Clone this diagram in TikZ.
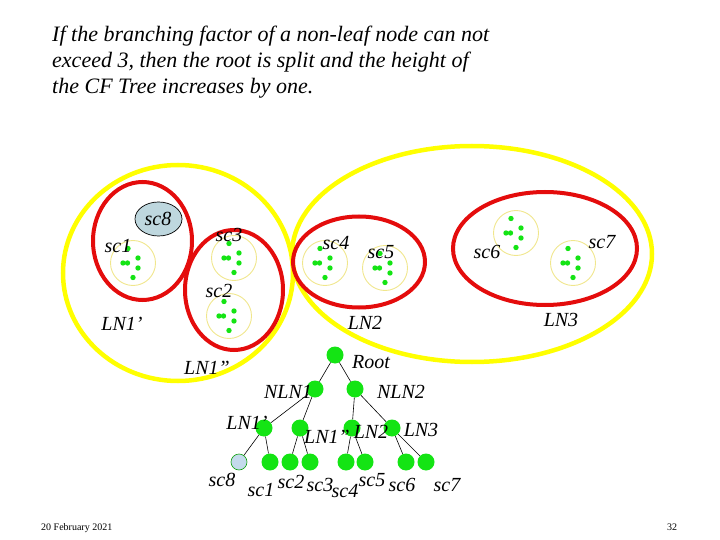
\documentclass[tikz,border=0pt]{standalone}
\usepackage{fontspec}
\setmainfont{Liberation Serif}
\usetikzlibrary{shapes.geometric}
\definecolor{yel}{RGB}{255,255,0}
\definecolor{redc}{RGB}{228,12,12}
\definecolor{paleyel}{RGB}{240,230,140}
\definecolor{grn}{RGB}{20,228,20}
\definecolor{sceight}{RGB}{190,215,222}
\definecolor{leafblue}{RGB}{196,218,236}
\begin{document}
\begin{tikzpicture}[x=1pt,y=-1pt,
  yell/.style={draw=yel, line width=4.5pt},
  redl/.style={draw=redc, line width=4pt},
  pale/.style={draw=paleyel, line width=0.9pt},
  gdot/.style={fill=grn},
  tnode/.style={circle, fill=grn, minimum size=17pt, inner sep=0pt},
  edge/.style={draw=black, line width=0.6pt},
  lbl/.style={font=\itshape\fontsize{20}{20}\selectfont, inner sep=0pt},
  ttl/.style={font=\itshape\fontsize{22}{22}\selectfont, anchor=base west, inner sep=0pt},
  small/.style={font=\fontsize{10}{10}\selectfont, inner sep=0pt},
  cluster/.pic={
    \draw[pale] (0,0) circle[radius=22.5pt];
    \foreach \a/\b in {-5/-14.5,-10/0,-5.5/0,5/-5,5/5,0/14.5}
      \fill[gdot] (\a,\b) circle[radius=2.7pt];
  }]
\useasboundingbox (0,0) rectangle (720,540);

% title
\node[ttl] (t1) at (52,42) {If the branching factor of a non-leaf node can not};
\node[ttl] (t2) at (52,68) {exceed 3, then the root is split and the height of};
\node[ttl] (t3) at (52,94) {the CF Tree increases by one.};

% big yellow ellipses
\draw[yell] (178,273) ellipse [x radius=115pt, y radius=108pt];
\draw[yell] (472,254) ellipse [x radius=180pt, y radius=108pt];

% red ellipses
\draw[redl] (142.5,241) ellipse [x radius=49.5pt, y radius=59pt];
\draw[redl] (234,290) ellipse [x radius=49pt, y radius=60pt];
\draw[redl] (359,262) ellipse [x radius=66pt, y radius=45.5pt];
\draw[redl] (545,248.5) ellipse [x radius=92pt, y radius=56.5pt];

% sc8 ellipse
\node[ellipse, draw=black, line width=0.7pt, fill=sceight, minimum width=47pt, minimum height=34pt, inner sep=0pt] (e8) at (158.5,219) {};

% clusters
\pic (c1) at (133,263) {cluster};
\pic (c3) at (234,258) {cluster};
\pic (c2) at (229,316) {cluster};
\pic (c4) at (325,263) {cluster};
\pic (c5) at (385,268) {cluster};
\pic (c6) at (516,233) {cluster};
\pic (c7) at (573,263) {cluster};

% upper labels
\node[lbl] (u8) at (158,219) {sc8};
\node[lbl] (u1) at (118,246) {sc1};
\node[lbl] (u3) at (229,235) {sc3};
\node[lbl] (u2) at (219,291) {sc2};
\node[lbl] (uln1a) at (122,324) {LN1’};
\node[lbl] (uln1b) at (207,368) {LN1”};
\node[lbl] (u4) at (336,243) {sc4};
\node[lbl] (u5) at (381,252) {sc5};
\node[lbl] (uln2) at (365,323) {LN2};
\node[lbl] (u6) at (487,252) {sc6};
\node[lbl] (u7) at (602,242) {sc7};
\node[lbl] (uln3) at (561,320) {LN3};

% tree nodes
\node[tnode] (root) at (335,355) {};
\node[tnode] (nln1) at (315,389) {};
\node[tnode] (nln2) at (355,389) {};
\node[tnode] (ln1a) at (264,428) {};
\node[tnode] (ln1b) at (300,428) {};
\node[tnode] (ln2) at (352,428) {};
\node[tnode] (ln3) at (392,428) {};
\node[tnode, fill=leafblue, draw=grn!70!black, line width=0.6pt, minimum size=16pt] (l8) at (239,462) {};
\node[tnode] (l1) at (270,462) {};
\node[tnode] (l2) at (290,462) {};
\node[tnode] (l3) at (310,462) {};
\node[tnode] (l4) at (346,462) {};
\node[tnode] (l5) at (365,462) {};
\node[tnode] (l6) at (406,462) {};
\node[tnode] (l7) at (426,462) {};

% tree edges
\draw[edge] (root) -- (nln1);
\draw[edge] (root) -- (nln2);
\draw[edge] (nln1) -- (ln1a);
\draw[edge] (nln1) -- (ln1b);
\draw[edge] (nln2) -- (ln2);
\draw[edge] (nln2) -- (ln3);
\draw[edge] (ln1a) -- (l8);
\draw[edge] (ln1a) -- (l1);
\draw[edge] (ln1b) -- (l2);
\draw[edge] (ln1b) -- (l3);
\draw[edge] (ln2) -- (l4);
\draw[edge] (ln2) -- (l5);
\draw[edge] (ln3) -- (l6);
\draw[edge] (ln3) -- (l7);

% tree labels
\node[lbl] (troot) at (371,362) {Root};
\node[lbl] (tnln1) at (288,392) {NLN1};
\node[lbl] (tnln2) at (401,392) {NLN2};
\node[lbl] (tln1a) at (247,423) {LN1’};
\node[lbl] (tln1b) at (327,437) {LN1”};
\node[lbl] (tln2) at (371,432) {LN2};
\node[lbl] (tln3) at (421,430) {LN3};
\node[lbl] (s8) at (222,480) {sc8};
\node[lbl] (s1) at (261,490) {sc1};
\node[lbl] (s2) at (291,482) {sc2};
\node[lbl] (s3) at (320,485) {sc3};
\node[lbl] (s4) at (345,491) {sc4};
\node[lbl] (s5) at (372,480) {sc5};
\node[lbl] (s6) at (402,485) {sc6};
\node[lbl] (s7) at (447,485) {sc7};

% footer
\node[small, anchor=base west] (date) at (41,530) {20 February 2021};
\node[small, anchor=base west] (page) at (667,530) {32};
\end{tikzpicture}
\end{document}
